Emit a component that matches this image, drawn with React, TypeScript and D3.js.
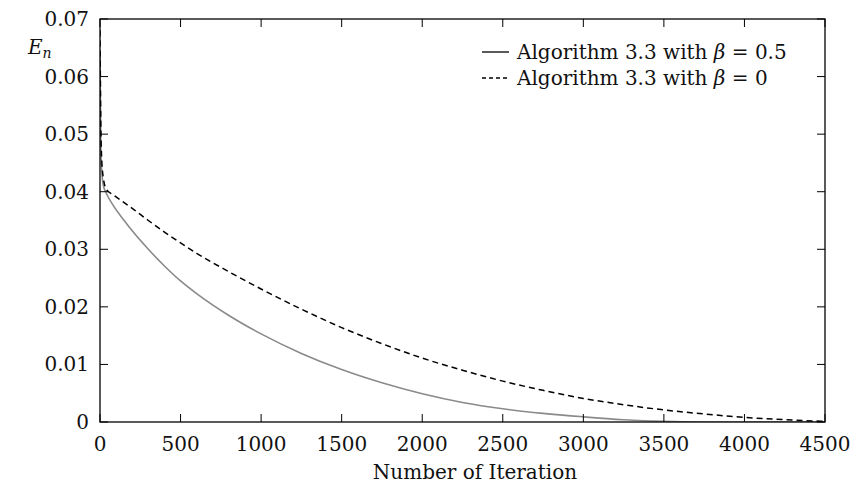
import React from 'react';
import * as d3 from 'd3';

// iterations sampled along the curves
const iterations = [0, 5, 10, 20, 40, 80, 150, 200, 300, 400, 500, 600, 800, 1000, 1250, 1500, 1750, 2000, 2250, 2500, 2750, 3000, 3250, 3500, 3750, 4000, 4250, 4500];

// Algorithm 3.3 with beta = 0.5 (solid grey)
const errBeta05 = [0.064, 0.048, 0.044, 0.0412, 0.0397, 0.0377, 0.035, 0.0332, 0.03, 0.0271, 0.0245, 0.0223, 0.0185, 0.0153, 0.0119, 0.0091, 0.0068, 0.0049, 0.0034, 0.0023, 0.0015, 0.0009, 0.0004, 0.0001, 0.0, 0.0, 0.0, 0.0];

// Algorithm 3.3 with beta = 0 (dashed black)
const errBeta0 = [0.068, 0.052, 0.046, 0.0425, 0.0404, 0.0395, 0.0381, 0.0371, 0.035, 0.033, 0.0311, 0.0293, 0.0261, 0.0231, 0.0196, 0.0164, 0.0136, 0.0111, 0.009, 0.0071, 0.0055, 0.0041, 0.003, 0.0021, 0.0014, 0.0008, 0.0004, 0.0001];

const xTicks = [0, 500, 1000, 1500, 2000, 2500, 3000, 3500, 4000, 4500];
const yTicks = [0, 0.01, 0.02, 0.03, 0.04, 0.05, 0.06, 0.07];
const legendLabels = ['Algorithm 3.3 with ', 'Algorithm 3.3 with '];
const legendValues = ['0.5', '0'];

const W = 852;
const H = 484;
const margin = { top: 19, right: 27, bottom: 62, left: 100 };
const FONT = '"DejaVu Serif", serif';
const FS = 20;

export default function App() {
  const innerW = W - margin.left - margin.right;
  const innerH = H - margin.top - margin.bottom;

  const x = d3.scaleLinear().domain([0, 4500]).range([0, innerW]);
  const y = d3.scaleLinear().domain([0, 0.07]).range([innerH, 0]);

  const line = d3.line<number>()
    .x((_, i) => x(iterations[i]))
    .y(d => y(d))
    .curve(d3.curveMonotoneX);

  const tick = 8;

  return (
    <div>
      <style>{`body{margin:0}`}</style>
      <svg width={W} height={H} style={{ display: 'block', background: '#fff' }} fontFamily={FONT}>
        <g transform={`translate(${margin.left},${margin.top})`}>
          <defs>
            <clipPath id="plot-clip">
              <rect x={0} y={0} width={innerW} height={innerH} />
            </clipPath>
          </defs>

          {/* curves */}
          <g clipPath="url(#plot-clip)">
            <path d={line(errBeta05) || ''} fill="none" stroke="#8a8a8a" strokeWidth={1.6} />
            <path d={line(errBeta0) || ''} fill="none" stroke="#000" strokeWidth={1.5} strokeDasharray="6,4" />
          </g>

          {/* frame */}
          <rect x={0} y={0} width={innerW} height={innerH} fill="none" stroke="#000" strokeWidth={1.3} />

          {/* x ticks */}
          {xTicks.map(t => (
            <g key={'x' + t} transform={`translate(${x(t)},0)`}>
              <line y1={innerH} y2={innerH - tick} stroke="#000" strokeWidth={1} />
              <line y1={0} y2={tick} stroke="#000" strokeWidth={1} />
              <text y={innerH + 29} textAnchor="middle" fontSize={FS} fill="#111">{t}</text>
            </g>
          ))}

          {/* y ticks */}
          {yTicks.map(t => (
            <g key={'y' + t} transform={`translate(0,${y(t)})`}>
              <line x1={0} x2={tick} stroke="#000" strokeWidth={1} />
              <line x1={innerW} x2={innerW - tick} stroke="#000" strokeWidth={1} />
              <text x={-11} dy="0.35em" textAnchor="end" fontSize={FS} fill="#111">{t === 0 ? '0' : d3.format('.2f')(t)}</text>
            </g>
          ))}

          {/* axis labels */}
          <text x={475 - margin.left} y={innerH + 57} textAnchor="middle" fontSize={FS} fill="#111">Number of Iteration</text>
          <text x={-72} y={35} fontSize={FS} fill="#111">
            <tspan fontStyle="italic">E</tspan>
            <tspan fontStyle="italic" fontSize={14} dy={4}>n</tspan>
          </text>

          {/* legend */}
          {legendLabels.map((lab, i) => {
            const ly = 33 + i * 26;
            return (
              <g key={'leg' + i} transform={`translate(${482 - margin.left},${ly})`}>
                <line x1={0} x2={27} y1={0} y2={0} stroke="#000" strokeWidth={1.3} strokeDasharray={i === 0 ? undefined : '4,3'} />
                <text x={35} dy="0.35em" fontSize={FS} fill="#111">
                  {lab}
                  <tspan fontStyle="italic">β</tspan>
                  {' = ' + legendValues[i]}
                </text>
              </g>
            );
          })}
        </g>
      </svg>
    </div>
  );
}
